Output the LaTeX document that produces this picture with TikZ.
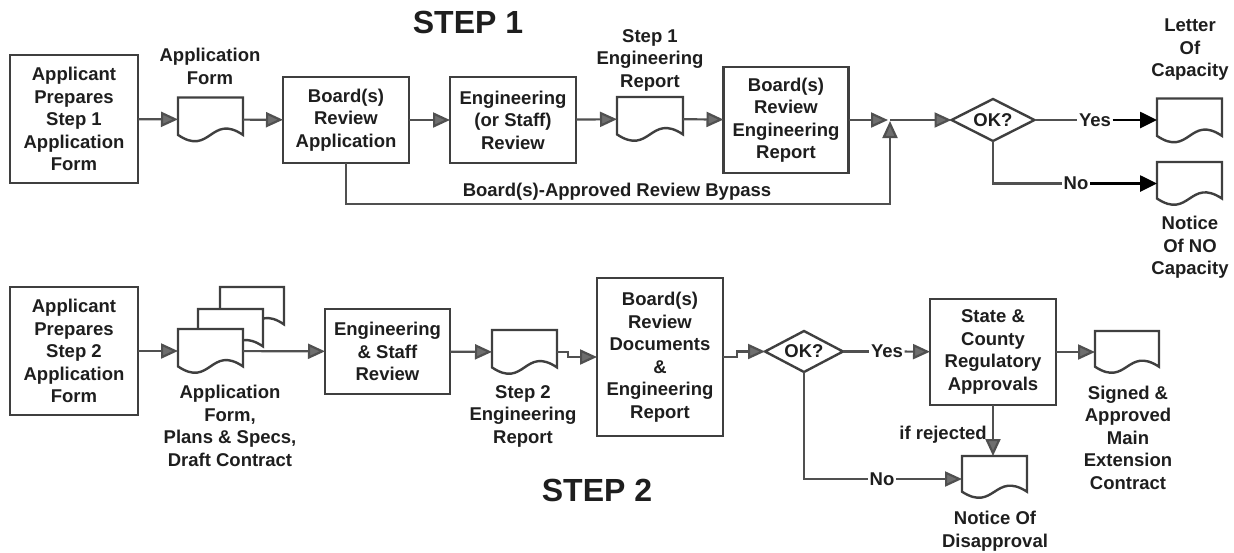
\documentclass[tikz,border=0pt]{standalone}
\usepackage{fontspec}
\setmainfont{Liberation Sans}
\usetikzlibrary{arrows.meta,shapes.geometric}
\definecolor{boxc}{HTML}{3F3F3F}
\definecolor{linec}{HTML}{505050}
\definecolor{arrc}{HTML}{6E6E6E}
\definecolor{txtc}{HTML}{1E1E1E}
\newcommand\dfont{\fontsize{18.5}{22.5}\selectfont\bfseries}
\newcommand\bigfont{\fontsize{32}{36}\selectfont\bfseries}
\newcommand\docnode[5]{%
  \node[docbox, minimum width=#4, minimum height=#5] (#1) at (#2,#3) {};
  \pgfmathsetmacro\dochw{#4/2}\pgfmathsetmacro\doca{0.85*#5}\pgfmathsetmacro\docd{0.5*#5}%
  \filldraw[docline] (#1.north west) -- (#1.north east) -- ++(0,\doca) .. controls +(-\dochw,-\docd) and +(\dochw,\docd) .. ++(-#4,0) -- cycle;
}
\tikzset{
  box/.style={rectangle, draw=boxc, line width=2.4pt, fill=white, inner sep=0pt, outer sep=0pt, font=\dfont, text=txtc, align=center},
  okdia/.style={diamond, aspect=2, draw=boxc, line width=2.4pt, fill=white, inner sep=0pt, outer sep=0pt, font=\dfont, text=txtc},
  docbox/.style={rectangle, draw=none, inner sep=0pt, outer sep=0pt},
  docline/.style={draw=boxc, line width=2.4pt, fill=white, line join=miter},
  lab/.style={font=\dfont, text=txtc, align=center, inner sep=0pt},
  ynlab/.style={font=\dfont, text=txtc, inner sep=1.5pt},
  title/.style={font=\bigfont, text=txtc, inner sep=0pt},
  gline/.style={draw=linec, line width=2.2pt},
  garrow/.style={draw=linec, line width=2.2pt, -{Triangle[length=17pt,width=15pt,fill=arrc]}},
  barrow/.style={draw=black, line width=2.6pt, -{Triangle[length=17pt,width=16pt]}},
}
\begin{document}
\begin{tikzpicture}[x=1pt,y=-1pt]
\useasboundingbox (0,0) rectangle (1234,552);

% ---------------- STEP 1 ----------------
\node[title] (t1) at (468,22) {STEP 1};
\node[box, minimum width=128, minimum height=128] (A1) at (74,119) {Applicant\\Prepares\\Step 1\\Application\\Form};
\docnode{D1}{210.5}{119.5}{65}{44}
\node[lab] (D1l) at (210,66.5) {Application\\Form};
\node[box, minimum width=126, minimum height=86] (B1) at (346,120) {Board(s)\\Review\\Application};
\node[box, minimum width=126, minimum height=86] (E1) at (513,120) {Engineering\\(or Staff)\\Review};
\docnode{R1}{650}{119}{66}{44}
\node[lab] (R1l) at (650,60) {Step 1\\Engineering\\Report};
\node[box, minimum width=125, minimum height=106] (BR1) at (786,120) {Board(s)\\Review\\Engineering\\Report};
\node[okdia, minimum width=83, minimum height=42] (ok1) at (993,120) {OK?};
\docnode{loc}{1189.5}{120.5}{65}{44}
\node[lab] (locl) at (1190,50) {Letter\\Of\\Capacity};
\docnode{ncap}{1189.5}{183.5}{65}{43}
\node[lab] (ncapl) at (1190,247.5) {Notice\\Of NO\\Capacity};
\node[ynlab] (yes1) at (1095,120) {Yes};
\node[ynlab] (no1) at (1076,183.5) {No};
\node[lab] (bypl) at (617,192) {Board(s)-Approved Review Bypass};
\coordinate (J) at (890,120);
\coordinate (Jb) at (890,204);

\draw[garrow] (A1) -- (D1);
\draw[garrow] (D1) -- (B1);
\draw[garrow] (B1) -- (E1);
\draw[garrow] (E1) -- (R1);
\draw[garrow] (R1) -- (BR1);
\draw[garrow, shorten >=2pt] (BR1) -- (J);
\draw[garrow, shorten >=1pt] (B1.south) |- (Jb) -- (J);
\draw[garrow] (J) -- (ok1);
\draw[gline] (ok1) -- (yes1);
\draw[barrow] (yes1) -- (yes1 -| loc.west);
\draw[gline] (ok1.south) |- (no1);
\draw[barrow] (no1) -- (no1 -| ncap.west);

% ---------------- STEP 2 ----------------
\node[title] (t2) at (597,490) {STEP 2};
\node[box, minimum width=128, minimum height=128] (A2) at (74,351) {Applicant\\Prepares\\Step 2\\Application\\Form};
\docnode{F3}{252}{309}{64}{44}
\docnode{F2}{230.5}{331}{65}{44}
\docnode{F1}{210.5}{351}{65}{44}
\node[lab] (F1l) at (230,426) {Application\\Form,\\Plans \& Specs,\\Draft Contract};
\node[box, minimum width=125, minimum height=85] (ES2) at (387.5,351.5) {Engineering\\\& Staff\\Review};
\docnode{R2}{524.5}{352}{65}{44}
\node[lab] (R2l) at (523,416) {Step 2\\Engineering\\Report};
\node[box, minimum width=126, minimum height=158] (BD2) at (660,357) {Board(s)\\Review\\Documents\\\&\\Engineering\\Report};
\node[okdia, minimum width=78, minimum height=41] (ok2) at (804,351.5) {OK?};
\node[box, minimum width=126, minimum height=106] (SC) at (993,352) {State \&\\County\\Regulatory\\Approvals};
\docnode{sig}{1127}{352}{64}{42}
\node[lab] (sigl) at (1128,437.5) {Signed \&\\Approved\\Main\\Extension\\Contract};
\docnode{dis}{994.5}{477}{65}{42}
\node[lab] (disl) at (995,531) {Notice Of\\Disapproval};
\node[ynlab] (yes2) at (887,351.5) {Yes};
\node[ynlab] (no2) at (882,479) {No};
\node[lab, anchor=east] (rej) at (987,435) {if rejected};

\draw[garrow] (A2) -- (F1);
\draw[garrow] (F1) -- (ES2);
\draw[garrow] (ES2) -- (R2);
\draw[garrow] (R2.east) -- ++(11,0) |- (BD2.west);
\draw[garrow] (BD2.east) -- ++(14,0) |- (ok2.west);
\draw[gline] (ok2) -- (yes2);
\draw[garrow] (yes2) -- (SC);
\draw[garrow] (SC) -- (sig);
\draw[garrow] (SC.south) -- (SC.south |- dis.north);
\draw[gline] (ok2.south) |- (no2);
\draw[garrow] (no2) -- (no2 -| dis.west);
\end{tikzpicture}
\end{document}
